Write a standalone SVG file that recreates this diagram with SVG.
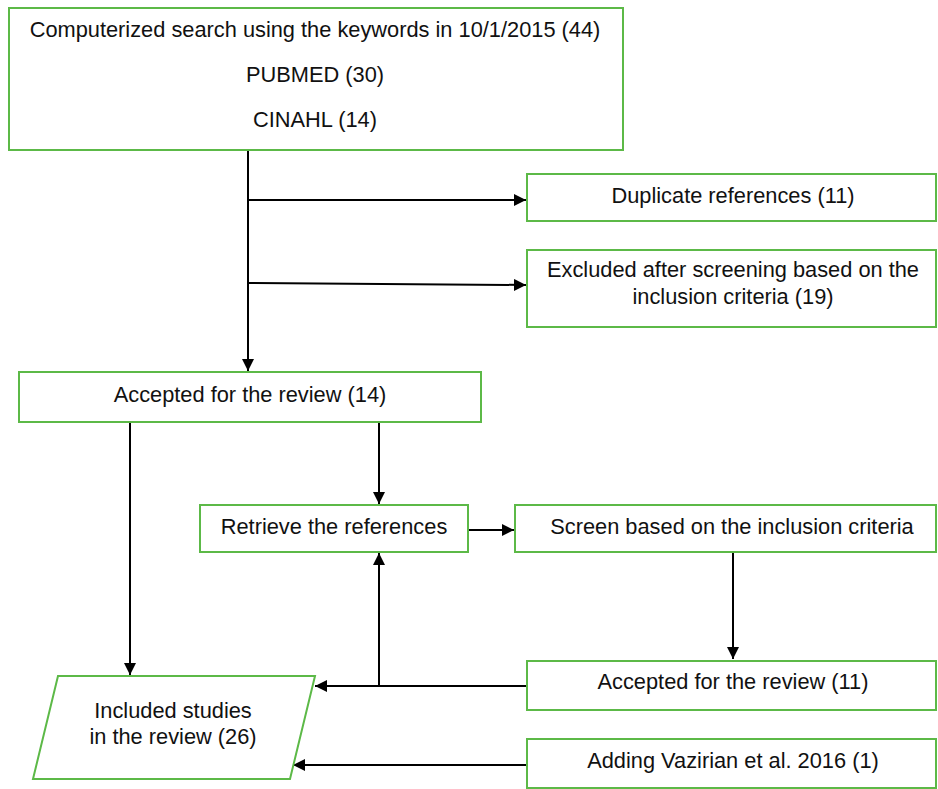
<svg xmlns="http://www.w3.org/2000/svg" width="938" height="789" viewBox="0 0 938 789">
<defs>
<style>
.box{fill:#fff;stroke:#5cb947;stroke-width:2}
.t{font-family:"Liberation Sans",Arial,sans-serif;font-size:21.8px;fill:#111;text-anchor:middle}
.c{stroke:#000;stroke-width:2;fill:none}
</style>
<marker id="ah" viewBox="0 0 10 10" refX="10" refY="5" markerWidth="12" markerHeight="12" markerUnits="userSpaceOnUse" orient="auto">
<path d="M0,0 L10,5 L0,10 z" fill="#000"/>
</marker>
</defs>
<rect width="938" height="789" fill="#fff"/>
<g id="connectors">
<line class="c" x1="248" y1="150" x2="248" y2="371" marker-end="url(#ah)"/>
<line class="c" x1="248" y1="200" x2="526" y2="200" marker-end="url(#ah)"/>
<line class="c" x1="248" y1="283" x2="526" y2="285" marker-end="url(#ah)"/>
<line class="c" x1="130" y1="422" x2="130" y2="675" marker-end="url(#ah)"/>
<line class="c" x1="379" y1="422" x2="379" y2="504" marker-end="url(#ah)"/>
<line class="c" x1="468" y1="530" x2="514" y2="530" marker-end="url(#ah)"/>
<line class="c" x1="733" y1="552" x2="733" y2="659" marker-end="url(#ah)"/>
<line class="c" x1="527" y1="686" x2="315" y2="686" marker-end="url(#ah)"/>
<line class="c" x1="379" y1="686" x2="379" y2="553" marker-end="url(#ah)"/>
<line class="c" x1="527" y1="765" x2="293" y2="765" marker-end="url(#ah)"/>
</g>
<g id="search">
<rect class="box" x="9" y="8" width="614" height="142"/>
<text class="t" x="315" y="37">Computerized search using the keywords in 10/1/2015 (44)</text>
<text class="t" x="315" y="82">PUBMED (30)</text>
<text class="t" x="315" y="127">CINAHL (14)</text>
</g>
<g id="duplicate">
<rect class="box" x="527" y="174" width="409" height="47"/>
<text class="t" x="733" y="203">Duplicate references (11)</text>
</g>
<g id="excluded">
<rect class="box" x="527" y="250" width="409" height="77"/>
<text class="t" x="733" y="277">Excluded after screening based on the</text>
<text class="t" x="733" y="304">inclusion criteria (19)</text>
</g>
<g id="accepted14">
<rect class="box" x="19" y="372" width="462" height="50"/>
<text class="t" x="250" y="402">Accepted for the review (14)</text>
</g>
<g id="retrieve">
<rect class="box" x="200" y="505" width="268" height="47"/>
<text class="t" x="334" y="534">Retrieve the references</text>
</g>
<g id="screen">
<rect class="box" x="515" y="505" width="421" height="47"/>
<text class="t" x="732" y="534">Screen based on the inclusion criteria</text>
</g>
<g id="accepted11">
<rect class="box" x="527" y="661" width="409" height="49"/>
<text class="t" x="733" y="689">Accepted for the review (11)</text>
</g>
<g id="adding">
<rect class="box" x="527" y="739" width="409" height="49"/>
<text class="t" x="733" y="768">Adding Vazirian et al. 2016 (1)</text>
</g>
<g id="included">
<polygon class="box" points="58,676 315,676 290,779 33,779"/>
<text class="t" x="173" y="718">Included studies</text>
<text class="t" x="173" y="744">in the review (26)</text>
</g>
</svg>
